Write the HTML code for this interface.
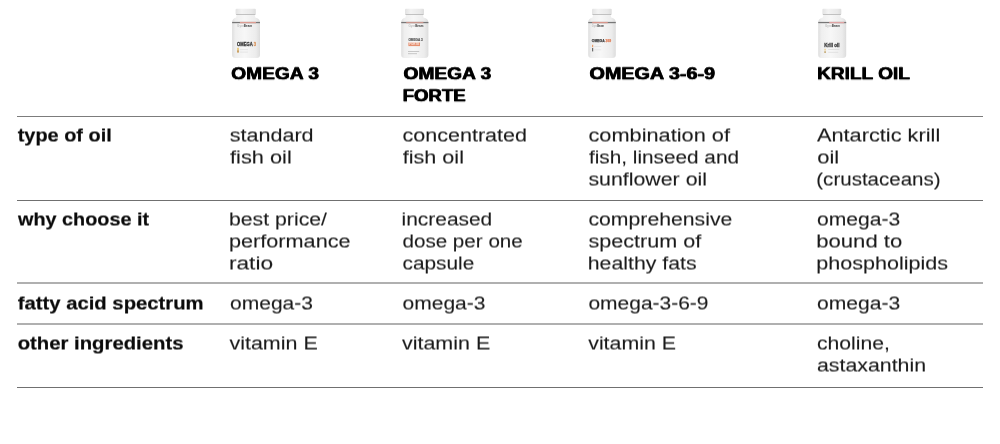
<!DOCTYPE html>
<html lang="en"><head><meta charset="utf-8"><title>Omega comparison</title>
<style>
html,body{margin:0;padding:0;background:#fff;}
body{width:1000px;height:444px;position:relative;overflow:hidden;font-family:"Liberation Sans",Arial,sans-serif;}
.t{position:absolute;white-space:nowrap;line-height:20px;transform-origin:0 0;display:block;}
.h{font-size:16.5px;font-weight:bold;color:#000;-webkit-text-stroke:0.3px #000;text-shadow:0.35px 0 0 #000,-0.35px 0 0 #000;}
.b{font-size:17.5px;font-weight:bold;color:#0a0a0a;-webkit-text-stroke:0.2px #0a0a0a;}
.r{font-size:17.5px;font-weight:normal;color:#1a1a1a;-webkit-text-stroke:0.1px #1a1a1a;}
.tx{position:absolute;left:0;top:0;width:1000px;height:444px;filter:url(#hs);}
.tx.hd{height:112px;filter:url(#hq);}
.ln{position:absolute;left:17px;width:966px;}
.bt{position:absolute;display:block;overflow:visible;filter:blur(0.35px);}
</style></head>
<body>
<svg class="bt" style="left:230px;top:6px" width="33" height="56" viewBox="0 0 33 56"><defs><linearGradient id="g1b" x1="0" x2="1" y1="0" y2="0"><stop offset="0" stop-color="#dedede"/><stop offset="0.12" stop-color="#efefef"/><stop offset="0.45" stop-color="#f7f7f7"/><stop offset="0.85" stop-color="#ececec"/><stop offset="1" stop-color="#dcdcdc"/></linearGradient><linearGradient id="g1c" x1="0" x2="1" y1="0" y2="0"><stop offset="0" stop-color="#e2e2e2"/><stop offset="0.3" stop-color="#f3f3f3"/><stop offset="0.8" stop-color="#e9e9e9"/><stop offset="1" stop-color="#dcdcdc"/></linearGradient></defs><path d="M6.6 9 L24.8 9 L25.3 11.5 Q30.0 12.5 30.0 16.5 L30.0 49 Q30.0 51.9 26.5 51.9 L5.6 51.9 Q2.1 51.9 2.1 49 L2.1 16.5 Q2.1 12.5 6.1 11.5 Z" fill="url(#g1b)"/><rect x="5.6" y="2.8" width="20.2" height="6" rx="1" fill="url(#g1c)"/><rect x="6.1" y="8.1" width="19.2" height="0.9" fill="#bdbdbd"/><rect x="2.1" y="15.9" width="27.9" height="1.3" fill="#777"/><rect x="9.9" y="15.9" width="16.1" height="1.3" fill="#dd9c92"/><text x="7.1" y="21.0" font-size="3.4" font-family="Liberation Sans, Arial, sans-serif" font-weight="bold" textLength="15" lengthAdjust="spacingAndGlyphs"><tspan fill="#bdbdbd">Gym</tspan><tspan fill="#3a3a3a">Beam</tspan></text><text x="7.1" y="40.2" font-size="5.6" font-family="Liberation Sans, Arial, sans-serif" font-weight="bold" textLength="19" lengthAdjust="spacingAndGlyphs"><tspan fill="#333" stroke="#333" stroke-width="0.3">OMEGA</tspan><tspan fill="#d9945c" stroke="#d9945c" stroke-width="0.3"> 3</tspan></text><rect x="7.1" y="41.8" width="1.8" height="2.2" fill="#e8c879"/><rect x="7.1" y="44.2" width="1.8" height="2.4" fill="#c79a55"/><rect x="9.9" y="43.4" width="8" height="0.7" fill="#dcdcdc"/><rect x="9.9" y="45.7" width="8" height="0.7" fill="#dcdcdc"/></svg>
<svg class="bt" style="left:399px;top:6px" width="33" height="56" viewBox="0 0 33 56"><defs><linearGradient id="g2b" x1="0" x2="1" y1="0" y2="0"><stop offset="0" stop-color="#dedede"/><stop offset="0.12" stop-color="#efefef"/><stop offset="0.45" stop-color="#f7f7f7"/><stop offset="0.85" stop-color="#ececec"/><stop offset="1" stop-color="#dcdcdc"/></linearGradient><linearGradient id="g2c" x1="0" x2="1" y1="0" y2="0"><stop offset="0" stop-color="#e2e2e2"/><stop offset="0.3" stop-color="#f3f3f3"/><stop offset="0.8" stop-color="#e9e9e9"/><stop offset="1" stop-color="#dcdcdc"/></linearGradient></defs><path d="M7.0 9 L24.0 9 L24.5 11.5 Q29.4 12.5 29.4 16.5 L29.4 49 Q29.4 51.9 25.9 51.9 L5.7 51.9 Q2.2 51.9 2.2 49 L2.2 16.5 Q2.2 12.5 6.5 11.5 Z" fill="url(#g2b)"/><rect x="6.0" y="2.8" width="19.0" height="6" rx="1" fill="url(#g2c)"/><rect x="6.5" y="8.1" width="18.0" height="0.9" fill="#bdbdbd"/><rect x="2.2" y="15.9" width="27.2" height="1.3" fill="#777"/><rect x="7.2" y="15.9" width="17.2" height="1.3" fill="#c9958c"/><text x="9.4" y="20.8" font-size="3.4" font-family="Liberation Sans, Arial, sans-serif" font-weight="bold" textLength="15" lengthAdjust="spacingAndGlyphs"><tspan fill="#bdbdbd">Gym</tspan><tspan fill="#3a3a3a">Beam</tspan></text><text x="9.4" y="35.2" font-size="3.4" font-family="Liberation Sans, Arial, sans-serif" font-weight="bold" fill="#555" stroke="#555" stroke-width="0.15" textLength="14.4" lengthAdjust="spacingAndGlyphs">OMEGA 3</text><rect x="9.4" y="36.5" width="11.6" height="3.6" fill="#e58f6f"/><text x="10.2" y="39.4" font-size="3" font-family="Liberation Sans, Arial, sans-serif" font-weight="bold" fill="#fbe9e2" textLength="10" lengthAdjust="spacingAndGlyphs">FORTE</text><rect x="9.0" y="45.2" width="11.2" height="0.6" fill="#a8a8a8"/><rect x="9.0" y="47.5" width="9" height="0.6" fill="#a8a8a8"/></svg>
<svg class="bt" style="left:586px;top:6px" width="33" height="56" viewBox="0 0 33 56"><defs><linearGradient id="g3b" x1="0" x2="1" y1="0" y2="0"><stop offset="0" stop-color="#dedede"/><stop offset="0.12" stop-color="#efefef"/><stop offset="0.45" stop-color="#f7f7f7"/><stop offset="0.85" stop-color="#ececec"/><stop offset="1" stop-color="#dcdcdc"/></linearGradient><linearGradient id="g3c" x1="0" x2="1" y1="0" y2="0"><stop offset="0" stop-color="#e2e2e2"/><stop offset="0.3" stop-color="#f3f3f3"/><stop offset="0.8" stop-color="#e9e9e9"/><stop offset="1" stop-color="#dcdcdc"/></linearGradient></defs><path d="M7.0 9 L24.7 9 L25.2 11.5 Q29.8 12.5 29.8 16.5 L29.8 49 Q29.8 51.9 26.3 51.9 L5.7 51.9 Q2.2 51.9 2.2 49 L2.2 16.5 Q2.2 12.5 6.5 11.5 Z" fill="url(#g3b)"/><rect x="6.0" y="2.8" width="19.7" height="6" rx="1" fill="url(#g3c)"/><rect x="6.5" y="8.1" width="18.7" height="0.9" fill="#bdbdbd"/><rect x="2.2" y="15.9" width="27.6" height="1.3" fill="#777"/><rect x="6.2" y="15.9" width="15.6" height="1.3" fill="#d8958a"/><text x="5.8" y="20.8" font-size="3.4" font-family="Liberation Sans, Arial, sans-serif" font-weight="bold" textLength="12.3" lengthAdjust="spacingAndGlyphs"><tspan fill="#bdbdbd">Gym</tspan><tspan fill="#3a3a3a">Beam</tspan></text><text x="5.8" y="36" font-size="4.2" font-family="Liberation Sans, Arial, sans-serif" font-weight="bold" stroke-width="0.25" textLength="19.4" lengthAdjust="spacingAndGlyphs"><tspan fill="#3c3c3c" stroke="#3c3c3c">OMEGA</tspan><tspan fill="#e0805c" stroke="#e0805c"> 369</tspan></text><rect x="6.0" y="38.8" width="1.2" height="2.4" fill="#e9a06e"/><rect x="6.0" y="42" width="1.2" height="3.4" fill="#6c6c6c"/><rect x="8.2" y="40" width="7" height="0.6" fill="#dedede"/><rect x="8.2" y="43.6" width="7" height="0.6" fill="#dedede"/></svg>
<svg class="bt" style="left:816px;top:6px" width="33" height="56" viewBox="0 0 33 56"><defs><linearGradient id="g4b" x1="0" x2="1" y1="0" y2="0"><stop offset="0" stop-color="#dedede"/><stop offset="0.12" stop-color="#efefef"/><stop offset="0.45" stop-color="#f7f7f7"/><stop offset="0.85" stop-color="#ececec"/><stop offset="1" stop-color="#dcdcdc"/></linearGradient><linearGradient id="g4c" x1="0" x2="1" y1="0" y2="0"><stop offset="0" stop-color="#e2e2e2"/><stop offset="0.3" stop-color="#f3f3f3"/><stop offset="0.8" stop-color="#e9e9e9"/><stop offset="1" stop-color="#dcdcdc"/></linearGradient></defs><path d="M7.4 9 L24.3 9 L24.8 11.5 Q30.2 12.5 30.2 16.5 L30.2 49 Q30.2 51.9 26.7 51.9 L5.7 51.9 Q2.2 51.9 2.2 49 L2.2 16.5 Q2.2 12.5 6.9 11.5 Z" fill="url(#g4b)"/><rect x="6.4" y="2.8" width="18.9" height="6" rx="1" fill="url(#g4c)"/><rect x="6.9" y="8.1" width="17.9" height="0.9" fill="#bdbdbd"/><rect x="2.2" y="15.9" width="28.0" height="1.3" fill="#777"/><rect x="13.2" y="15.9" width="15.0" height="1.3" fill="#e0a3a3"/><text x="9.0" y="20.9" font-size="3.4" font-family="Liberation Sans, Arial, sans-serif" font-weight="bold" textLength="15" lengthAdjust="spacingAndGlyphs"><tspan fill="#bdbdbd">Gym</tspan><tspan fill="#3a3a3a">Beam</tspan></text><text x="8.2" y="40.6" font-size="5.4" font-family="Liberation Sans, Arial, sans-serif" font-weight="bold" fill="#3a3a3a" stroke="#3a3a3a" stroke-width="0.3" textLength="15.4" lengthAdjust="spacingAndGlyphs">Krill oil</text><rect x="8.2" y="42.8" width="1.8" height="1.8" fill="#eed9a8"/><rect x="8.2" y="45.2" width="1.8" height="1.8" fill="#c9b183"/><rect x="12.2" y="43.4" width="11" height="0.6" fill="#d6d6d6"/><rect x="12.2" y="45.9" width="10" height="0.6" fill="#d6d6d6"/></svg>
<div class="ln" style="top:116px;height:1px;background:#7c7c7c"></div>
<div class="ln" style="top:200px;height:1px;background:#707070"></div>
<div class="ln" style="top:282px;height:2px;background:#b0b0b0"></div>
<div class="ln" style="top:323px;height:2px;background:#b0b0b0"></div>
<div class="ln" style="top:387px;height:1px;background:#707070"></div>
<svg width="0" height="0" style="position:absolute"><filter id="hs" x="0" y="0" width="100%" height="100%" color-interpolation-filters="sRGB"><feConvolveMatrix order="1 2" kernelMatrix="0.5 0.5" targetX="0" targetY="1" divisor="1" edgeMode="none" preserveAlpha="false"/></filter><filter id="hq" x="0" y="0" width="100%" height="100%" color-interpolation-filters="sRGB"><feConvolveMatrix order="1 2" kernelMatrix="0.75 0.25" targetX="0" targetY="1" divisor="1" edgeMode="none" preserveAlpha="false"/></filter></svg>
<div class="tx hd">
<span class="t h" style="left:231px;top:63px;transform:translateX(0.18px) scaleX(1.1636)">OMEGA 3</span>
<span class="t h" style="left:403px;top:63px;transform:translateX(0.48px) scaleX(1.1623)">OMEGA 3</span>
<span class="t h" style="left:402px;top:85px;transform:translateX(0.64px) scaleX(1.1269)">FORTE</span>
<span class="t h" style="left:589px;top:63px;transform:translateX(0.50px) scaleX(1.1980)">OMEGA 3-6-9</span>
<span class="t h" style="left:817px;top:63px;transform:translateX(0.12px) scaleX(1.1542)">KRILL OIL</span>
</div>
<div class="tx">
<span class="t b" style="left:17px;top:125px;transform:translateX(0.71px) scaleX(1.1375)">type of oil</span>
<span class="t b" style="left:18px;top:209px;transform:translateX(0.05px) scaleX(1.1321)">why choose it</span>
<span class="t b" style="left:17px;top:293px;transform:translateX(0.72px) scaleX(1.1586)">fatty acid spectrum</span>
<span class="t b" style="left:17px;top:333px;transform:translateX(0.72px) scaleX(1.1594)">other ingredients</span>
<span class="t r" style="left:229px;top:125px;transform:translateX(0.66px) scaleX(1.2317)">standard</span>
<span class="t r" style="left:230px;top:147px;transform:translateX(0.06px) scaleX(1.2435)">fish oil</span>
<span class="t r" style="left:228px;top:209px;transform:translateX(1.00px) scaleX(1.2136)">best price/</span>
<span class="t r" style="left:228px;top:231px;transform:translateX(0.97px) scaleX(1.2375)">performance</span>
<span class="t r" style="left:228px;top:253px;transform:translateX(0.92px) scaleX(1.2974)">ratio</span>
<span class="t r" style="left:229px;top:293px;transform:translateX(0.96px) scaleX(1.2026)">omega-3</span>
<span class="t r" style="left:229px;top:333px;transform:translateX(0.46px) scaleX(1.2263)">vitamin E</span>
<span class="t r" style="left:402px;top:125px;transform:translateX(0.46px) scaleX(1.2313)">concentrated</span>
<span class="t r" style="left:402px;top:147px;transform:translateX(0.66px) scaleX(1.2353)">fish oil</span>
<span class="t r" style="left:401px;top:209px;transform:translateX(0.51px) scaleX(1.1960)">increased</span>
<span class="t r" style="left:402px;top:231px;transform:translateX(0.46px) scaleX(1.1775)">dose per one</span>
<span class="t r" style="left:402px;top:253px;transform:translateX(0.46px) scaleX(1.1904)">capsule</span>
<span class="t r" style="left:402px;top:293px;transform:translateX(0.46px) scaleX(1.2026)">omega-3</span>
<span class="t r" style="left:401px;top:333px;transform:translateX(0.96px) scaleX(1.2263)">vitamin E</span>
<span class="t r" style="left:588px;top:125px;transform:translateX(0.46px) scaleX(1.2432)">combination of</span>
<span class="t r" style="left:588px;top:147px;transform:translateX(0.96px) scaleX(1.1864)">fish, linseed and</span>
<span class="t r" style="left:588px;top:169px;transform:translateX(0.46px) scaleX(1.2184)">sunflower oil</span>
<span class="t r" style="left:588px;top:209px;transform:translateX(0.46px) scaleX(1.2119)">comprehensive</span>
<span class="t r" style="left:588px;top:231px;transform:translateX(0.46px) scaleX(1.2334)">spectrum of</span>
<span class="t r" style="left:587px;top:253px;transform:translateX(0.74px) scaleX(1.2161)">healthy fats</span>
<span class="t r" style="left:588px;top:293px;transform:translateX(0.46px) scaleX(1.1983)">omega-3-6-9</span>
<span class="t r" style="left:588px;top:333px;transform:translateX(0.21px) scaleX(1.2193)">vitamin E</span>
<span class="t r" style="left:816px;top:125px;transform:translateX(0.96px) scaleX(1.2430)">Antarctic krill</span>
<span class="t r" style="left:817px;top:147px;transform:translateX(0.26px) scaleX(1.2559)">oil</span>
<span class="t r" style="left:816px;top:169px;transform:translateX(0.29px) scaleX(1.1728)">(crustaceans)</span>
<span class="t r" style="left:816px;top:209px;transform:translateX(0.96px) scaleX(1.2062)">omega-3</span>
<span class="t r" style="left:816px;top:231px;transform:translateX(0.20px) scaleX(1.2641)">bound to</span>
<span class="t r" style="left:816px;top:253px;transform:translateX(0.23px) scaleX(1.2320)">phospholipids</span>
<span class="t r" style="left:816px;top:293px;transform:translateX(0.96px) scaleX(1.2062)">omega-3</span>
<span class="t r" style="left:816px;top:333px;transform:translateX(0.96px) scaleX(1.2098)">choline,</span>
<span class="t r" style="left:816px;top:355px;transform:translateX(0.96px) scaleX(1.2186)">astaxanthin</span>
</div>
</body></html>
